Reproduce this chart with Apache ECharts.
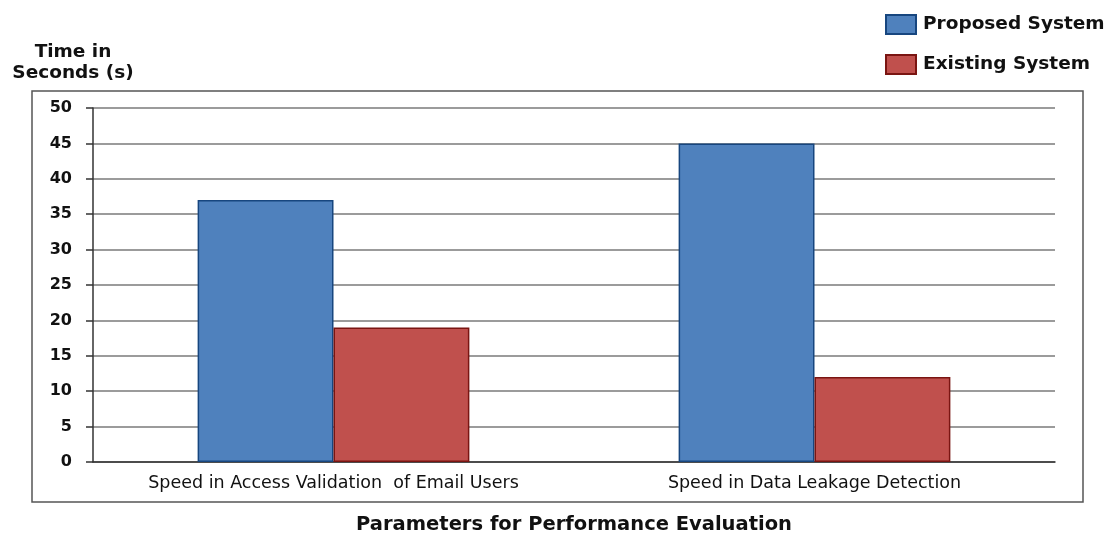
<!DOCTYPE html>
<html><head><meta charset="utf-8">
<script src="https://cdn.jsdelivr.net/npm/echarts@6/dist/echarts.min.js"></script>
<style>html,body{margin:0;padding:0;background:#fff}#c{width:1118px;height:536px}</style>
</head><body><div id="c"></div>
<script>
const categories = ['Speed in Access Validation  of Email Users', 'Speed in Data Leakage Detection'];
const proposed = [37, 45];
const existing = [19, 12];
const yTicks = [0, 5, 10, 15, 20, 25, 30, 35, 40, 45, 50];

const chart = echarts.init(document.getElementById('c'));
const F = 'DejaVu Sans';
chart.setOption({
  animation: false,
  backgroundColor: '#fff',
  graphic: [
    {type: 'rect', shape: {x: 32, y: 91, width: 1051, height: 411}, style: {fill: 'none', stroke: '#555', lineWidth: 1.5}, z: -1},
    {type: 'text', x: 73, y: 52, style: {text: 'Time in', font: 'bold 18.5px "' + F + '"', fill: '#111', align: 'center', verticalAlign: 'middle'}},
    {type: 'text', x: 73, y: 73, style: {text: 'Seconds (s)', font: 'bold 18.5px "' + F + '"', fill: '#111', align: 'center', verticalAlign: 'middle'}}
  ],
  legend: {
    orient: 'vertical', left: 880, top: 9, itemGap: 19,
    itemWidth: 30, itemHeight: 19, icon: 'rect',
    textStyle: {fontFamily: F, fontWeight: 'bold', fontSize: 18.5, color: '#111', padding: [0, 0, 0, 2]},
    data: ['Proposed System', 'Existing System']
  },
  grid: {left: 93, right: 63, top: 108, bottom: 74, containLabel: false, outerBoundsMode: 'none'},
  xAxis: {
    type: 'category', data: categories,
    name: 'Parameters for Performance Evaluation', nameLocation: 'middle', nameGap: 53,
    nameTextStyle: {fontFamily: F, fontWeight: 'bold', fontSize: 19.5, color: '#111'},
    axisLine: {lineStyle: {color: '#333', width: 1.5}},
    axisTick: {show: false},
    axisLabel: {fontFamily: F, fontSize: 17.5, color: '#111', margin: 12, interval: 0, hideOverlap: false}
  },
  yAxis: {
    type: 'value', min: 0, max: 50, interval: 5,
    axisLine: {show: true, lineStyle: {color: '#333', width: 1.5}},
    axisTick: {show: true, length: 7, lineStyle: {color: '#333', width: 1.5}},
    axisLabel: {fontFamily: F, fontWeight: 'bold', fontSize: 16, color: '#111', margin: 21,
      formatter: v => yTicks.includes(v) ? String(v) : ''},
    splitLine: {lineStyle: {color: '#7a7a7a', width: 1.5}}
  },
  series: [
    {name: 'Proposed System', type: 'bar', data: proposed, barGap: '0%', barCategoryGap: '43.5%',
     itemStyle: {color: '#4F81BD', borderColor: '#17467F', borderWidth: 1.5}},
    {name: 'Existing System', type: 'bar', data: existing,
     itemStyle: {color: '#C0504D', borderColor: '#7A1512', borderWidth: 1.5}}
  ]
});
</script></body></html>
